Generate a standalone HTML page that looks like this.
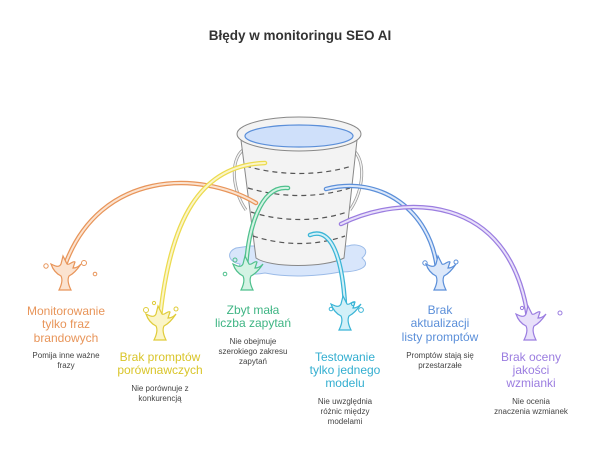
<!DOCTYPE html>
<html><head><meta charset="utf-8"><style>
body{margin:0;background:#fff;}
svg{display:block;font-family:"Liberation Sans",sans-serif;}
</style></head><body>
<svg width="600" height="453" viewBox="0 0 600 453">
<defs>
<path id="spl" d="M-14,-6 C-10,-4 -6,-2 -4,-6 L-2,-14 L2,-6 C4,-4 8,-10 10,-8 L8,-2 C12,-2 14,-4 16,-6 C12,0 8,4 4,6 C2,10 4,16 6,20 L-6,20 C-4,16 -2,10 -4,6 C-8,4 -12,0 -14,-6 Z"/>
</defs>
<text x="300" y="40" text-anchor="middle" font-size="13.5" font-weight="bold" fill="#333">Błędy w monitoringu SEO AI</text>

<!-- puddle -->
<path d="M236,248 C226,252 228,262 240,264 C236,272 250,276 265,273 C290,278 320,276 340,272 C360,272 372,266 362,258 C372,250 360,242 348,246 L250,246 Z" fill="#d8e6fb" stroke="#9bbbe8" stroke-width="1"/>
<!-- handles -->
<path d="M243,150 C230,160 232,190 246,210" fill="none" stroke="#999" stroke-width="3"/>
<path d="M243,150 C230,160 232,190 246,210" fill="none" stroke="#f4f4f4" stroke-width="1.5"/>
<path d="M353,150 C366,160 364,190 350,210" fill="none" stroke="#999" stroke-width="3"/>
<path d="M353,150 C366,160 364,190 350,210" fill="none" stroke="#f4f4f4" stroke-width="1.5"/>
<!-- body -->
<path d="M241,140 L256,258 C270,268 325,268 344,258 L357,140 Z" fill="#f3f3f3" stroke="#888" stroke-width="1"/>
<g fill="none" stroke="#555" stroke-width="1.2" stroke-dasharray="5,4">
<path d="M246,166 C280,176 320,176 352,166"/>
<path d="M248,188 C282,198 318,198 350,188"/>
<path d="M251,212 C282,222 318,222 347,212"/>
<path d="M253,236 C284,246 316,246 345,236"/>
</g>
<ellipse cx="299" cy="134" rx="62" ry="17" fill="#f3f3f3" stroke="#888" stroke-width="1"/>
<ellipse cx="299" cy="136" rx="54" ry="11" fill="#cfe0fa" stroke="#5b8fd9" stroke-width="1.2"/>

<!-- streams -->
<g fill="none" stroke-linecap="round">
<path d="M256,203 C200,170 100,170 65,265" stroke="#e8955a" stroke-width="4.5"/>
<path d="M256,203 C200,170 100,170 65,265" stroke="#fbe3d0" stroke-width="2"/>
<path d="M265,163 C200,165 170,220 160,318" stroke="#ecdb4e" stroke-width="4.5"/>
<path d="M265,163 C200,165 170,220 160,318" stroke="#fbf5c8" stroke-width="2"/>
<path d="M288,188 C260,185 248,230 246,268" stroke="#4fc08d" stroke-width="4.5"/>
<path d="M288,188 C260,185 248,230 246,268" stroke="#d4f3e4" stroke-width="2"/>
<path d="M310,235 C335,225 343,270 345,305" stroke="#3bb5d6" stroke-width="4.5"/>
<path d="M310,235 C335,225 343,270 345,305" stroke="#d2f0f8" stroke-width="2"/>
<path d="M326,189 C380,175 430,210 437,268" stroke="#5b8fd9" stroke-width="4.5"/>
<path d="M326,189 C380,175 430,210 437,268" stroke="#dce8fa" stroke-width="2"/>
<path d="M341,224 C400,195 510,190 528,318" stroke="#9b7de0" stroke-width="4.5"/>
<path d="M341,224 C400,195 510,190 528,318" stroke="#e8e0fa" stroke-width="2"/>
</g>

<!-- splashes -->
<g stroke-width="1.2">
<use href="#spl" transform="translate(65,270)" fill="#fbe3d0" stroke="#e8955a"/>
<use href="#spl" transform="translate(160,320)" fill="#fbf5c8" stroke="#e0cc3a"/>
<use href="#spl" transform="translate(247,270)" fill="#d4f3e4" stroke="#4fc08d"/>
<use href="#spl" transform="translate(345,310)" fill="#d2f0f8" stroke="#3bb5d6"/>
<use href="#spl" transform="translate(440,270)" fill="#dce8fa" stroke="#5b8fd9"/>
<use href="#spl" transform="translate(530,320)" fill="#e8e0fa" stroke="#9b7de0"/>
</g>
<g fill="none" stroke-width="1">
<circle cx="46" cy="266" r="2.2" stroke="#e8955a"/><circle cx="84" cy="263" r="2.5" stroke="#e8955a"/><circle cx="95" cy="274" r="1.8" stroke="#e8955a"/>
<circle cx="146" cy="310" r="2.5" stroke="#e0cc3a"/><circle cx="154" cy="303" r="1.6" stroke="#e0cc3a"/><circle cx="176" cy="309" r="2" stroke="#e0cc3a"/>
<circle cx="225" cy="274" r="1.8" stroke="#4fc08d"/><circle cx="235" cy="260" r="2" stroke="#4fc08d"/>
<circle cx="331" cy="309" r="1.8" stroke="#3bb5d6"/><circle cx="353" cy="304" r="1.6" stroke="#3bb5d6"/><circle cx="361" cy="310" r="2.4" stroke="#3bb5d6"/>
<circle cx="425" cy="263" r="2.2" stroke="#5b8fd9"/><circle cx="456" cy="262" r="2" stroke="#5b8fd9"/>
<circle cx="522" cy="308" r="1.6" stroke="#9b7de0"/><circle cx="560" cy="313" r="2" stroke="#9b7de0"/>
</g>

<!-- labels -->
<g text-anchor="middle" font-size="12">
<g fill="#e8955a"><text x="66" y="315">Monitorowanie</text><text x="66" y="328">tylko fraz</text><text x="66" y="342">brandowych</text></g>
<g fill="#d9c52a"><text x="160" y="361">Brak promptów</text><text x="160" y="374">porównawczych</text></g>
<g fill="#3fb584"><text x="253" y="314">Zbyt mała</text><text x="253" y="327">liczba zapytań</text></g>
<g fill="#33aed0"><text x="345" y="361">Testowanie</text><text x="345" y="374">tylko jednego</text><text x="345" y="387">modelu</text></g>
<g fill="#5b8fd9"><text x="440" y="314">Brak</text><text x="440" y="327">aktualizacji</text><text x="440" y="341">listy promptów</text></g>
<g fill="#9b7de0"><text x="531" y="361">Brak oceny</text><text x="531" y="374">jakości</text><text x="531" y="387">wzmianki</text></g>
</g>
<g text-anchor="middle" font-size="8" fill="#444">
<text x="66" y="358">Pomija inne ważne</text><text x="66" y="368">frazy</text>
<text x="160" y="391">Nie porównuje z</text><text x="160" y="401">konkurencją</text>
<text x="253" y="344">Nie obejmuje</text><text x="253" y="354">szerokiego zakresu</text><text x="253" y="364">zapytań</text>
<text x="345" y="404">Nie uwzględnia</text><text x="345" y="414">różnic między</text><text x="345" y="424">modelami</text>
<text x="440" y="358">Promptów stają się</text><text x="440" y="368">przestarzałe</text>
<text x="531" y="404">Nie ocenia</text><text x="531" y="414">znaczenia wzmianek</text>
</g>
</svg>
</body></html>
